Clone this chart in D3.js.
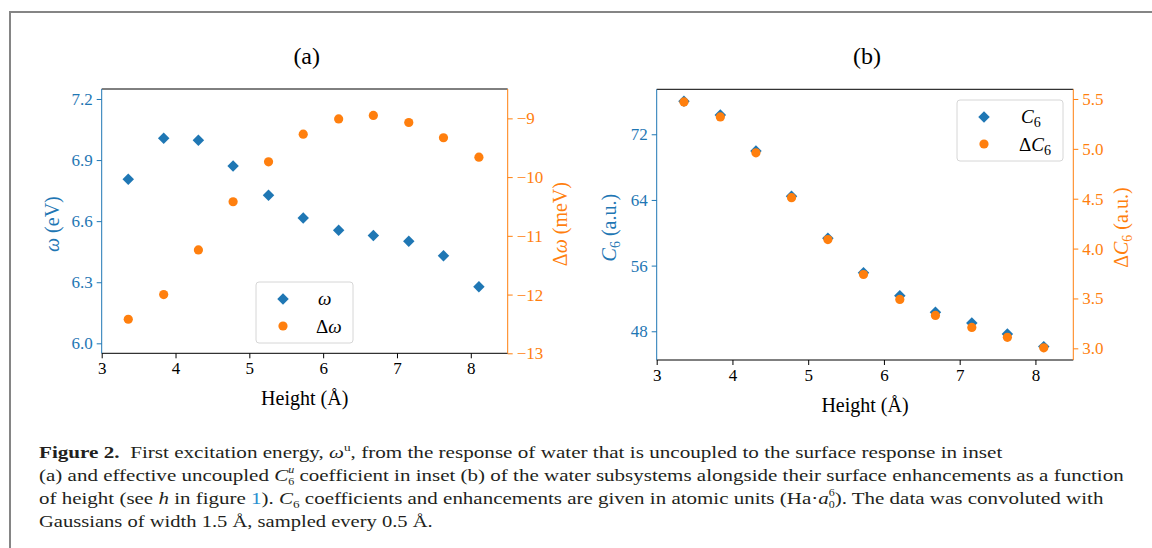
<!DOCTYPE html>
<meta charset="utf-8">
<script src="https://d3js.org/d3.v7.min.js"></script>
<style>
  body { margin: 0; background: #fff; }
</style>
<div id="fig"></div>
<script>

// heights of the water subsystems (Å)
var heights = [3.36, 3.84, 4.31, 4.78, 5.26, 5.73, 6.21, 6.68, 7.16, 7.63, 8.11];

// inset (a)
var omega  = [6.806, 7.007, 6.997, 6.871, 6.727, 6.616, 6.555, 6.529, 6.501, 6.430, 6.278];
var dOmega = [-12.42, -12.00, -11.24, -10.42, -9.74, -9.27, -9.01, -8.95, -9.07, -9.33, -9.66];

// inset (b)
var c6  = [76.02, 74.35, 69.97, 64.45, 59.33, 55.14, 52.34, 50.32, 49.02, 47.68, 46.13];
var dC6 = [5.47, 5.32, 4.96, 4.51, 4.09, 3.74, 3.49, 3.33, 3.21, 3.11, 3.005];

// tick labels
var xTicks      = [3, 4, 5, 6, 7, 8];
var omegaTicks  = [6.0, 6.3, 6.6, 6.9, 7.2];
var dOmegaTicks = [-13, -12, -11, -10, -9];
var c6Ticks     = [48, 56, 64, 72];
var dC6Ticks    = [3.0, 3.5, 4.0, 4.5, 5.0, 5.5];

var blue = "#1f77b4", orange = "#ff7f0e";
var serif = "'Liberation Serif', 'Times New Roman', serif";

var svg = d3.select("#fig").append("svg")
    .attr("width", 1152)
    .attr("height", 548)
    .style("font-family", serif);

// grey frame round the figure
svg.append("rect")
  .attr("x", 10).attr("y", 12)
  .attr("width", 1160).attr("height", 560)
  .attr("fill", "none")
  .attr("stroke", "#858585")
  .attr("stroke-width", 2);

var fmtMinus = function(d) { return d < 0 ? "\u2212" + Math.abs(d) : d; };

function diamond(sel, x, y, ys, col) {
  sel.append("g").selectAll("path")
    .data(heights)
    .join("path")
      .attr("d", d3.symbol(d3.symbolSquare, 66))
      .attr("transform", function(d, i) { return "translate(" + x(d) + "," + y(ys[i]) + ") rotate(45)"; })
      .attr("fill", col);
}
function dots(sel, x, y, ys, col) {
  sel.append("g").selectAll("circle")
    .data(heights)
    .join("circle")
      .attr("cx", function(d) { return x(d); })
      .attr("cy", function(d, i) { return y(ys[i]); })
      .attr("r", 4.6)
      .attr("fill", col);
}

function styleAxis(g, col) {
  g.attr("font-family", null).attr("font-size", null);
  g.select(".domain").remove();
  g.selectAll(".tick line").attr("stroke", col).attr("stroke-width", 1);
  g.selectAll(".tick text")
    .attr("fill", col)
    .style("font-family", serif)
    .style("font-size", "17px");
}

function drawPanel(o) {
  var g = svg.append("g");
  var x  = d3.scaleLinear().domain([3, 8.5]).range([o.left, o.right]);
  var yL = d3.scaleLinear().domain(o.lDom).range([o.bottom, o.top]);
  var yR = d3.scaleLinear().domain(o.rDom).range([o.bottom, o.top]);

  g.append("g")
    .attr("transform", "translate(0," + o.bottom + ")")
    .call(d3.axisBottom(x).tickValues(xTicks).tickSize(5).tickPadding(4).tickFormat(d3.format("d")))
    .call(styleAxis, "#000");

  g.append("g")
    .attr("transform", "translate(" + o.left + ",0)")
    .call(d3.axisLeft(yL).tickValues(o.lTicks).tickSize(5).tickPadding(4).tickFormat(o.lFmt))
    .call(styleAxis, blue);

  g.append("g")
    .attr("transform", "translate(" + o.right + ",0)")
    .call(d3.axisRight(yR).tickValues(o.rTicks).tickSize(5).tickPadding(4).tickFormat(o.rFmt))
    .call(styleAxis, orange);

  // spines
  g.append("line").attr("x1", o.left).attr("x2", o.right).attr("y1", o.top).attr("y2", o.top).attr("stroke", "#000");
  g.append("line").attr("x1", o.left).attr("x2", o.right).attr("y1", o.bottom).attr("y2", o.bottom).attr("stroke", "#000");
  g.append("line").attr("x1", o.left).attr("x2", o.left).attr("y1", o.top).attr("y2", o.bottom).attr("stroke", blue);
  g.append("line").attr("x1", o.right).attr("x2", o.right).attr("y1", o.top).attr("y2", o.bottom).attr("stroke", orange);

  diamond(g, x, yL, o.lData, blue);
  dots(g, x, yR, o.rData, orange);

  // panel title
  g.append("text")
    .attr("x", (o.left + o.right) / 2 + 2).attr("y", 64)
    .attr("text-anchor", "middle")
    .style("font-size", "24px")
    .text(o.title);

  // x label
  g.append("text")
    .attr("x", (o.left + o.right) / 2).attr("y", o.bottom + 52)
    .attr("text-anchor", "middle")
    .style("font-size", "20px")
    .text("Height (\u00c5)");

  // y labels
  var mid = (o.top + o.bottom) / 2 + 3;
  var tl = g.append("text")
    .attr("transform", "translate(" + o.lLabelX + "," + mid + ") rotate(-90)")
    .attr("text-anchor", "middle")
    .attr("fill", blue)
    .style("font-size", "20px");
  o.lLabel(tl);
  var tr = g.append("text")
    .attr("transform", "translate(" + o.rLabelX + "," + mid + ") rotate(-90)")
    .attr("text-anchor", "middle")
    .attr("fill", orange)
    .style("font-size", "20px");
  o.rLabel(tr);

  // legend
  var lg = g.append("g").attr("transform", "translate(" + o.legX + "," + o.legY + ")");
  lg.append("rect")
    .attr("width", o.legW).attr("height", 61)
    .attr("rx", 3)
    .attr("fill", "#fff").attr("fill-opacity", 0.8)
    .attr("stroke", "#d6d6d6");
  lg.append("path")
    .attr("d", d3.symbol(d3.symbolSquare, 66))
    .attr("transform", "translate(27,17) rotate(45)")
    .attr("fill", blue);
  lg.append("circle").attr("cx", 27).attr("cy", 44).attr("r", 4.6).attr("fill", orange);
  var t1 = lg.append("text").attr("x", o.legTx).attr("y", 23).style("font-size", "19px");
  o.leg1(t1);
  var t2 = lg.append("text").attr("x", o.legTx - 2).attr("y", 51).style("font-size", "19px");
  o.leg2(t2);
}

function c6Label(t, pre) {
  if (pre) t.append("tspan").text("\u0394");
  t.append("tspan").style("font-style", "italic").text("C");
  t.append("tspan").attr("dy", 4).style("font-size", "14px").text("6");
  t.append("tspan").attr("dy", -4).text(" (a.u.)");
}

drawPanel({
  title: "(a)",
  left: 101.7, right: 507.7, top: 89, bottom: 353.3,
  lDom: [5.951, 7.249], rDom: [-13, -8.5],
  lTicks: omegaTicks, rTicks: dOmegaTicks,
  lFmt: d3.format(".1f"), rFmt: fmtMinus,
  lData: omega, rData: dOmega,
  lLabelX: 59, rLabelX: 567,
  lLabel: function(t) {
    t.append("tspan").style("font-style", "italic").text("\u03c9");
    t.append("tspan").text(" (eV)");
  },
  rLabel: function(t) {
    t.append("tspan").text("\u0394");
    t.append("tspan").style("font-style", "italic").text("\u03c9");
    t.append("tspan").text(" (meV)");
  },
  legX: 256, legY: 282, legW: 97, legTx: 62,
  leg1: function(t) { t.style("font-style", "italic").text("\u03c9"); },
  leg2: function(t) {
    t.append("tspan").text("\u0394");
    t.append("tspan").style("font-style", "italic").text("\u03c9");
  }
});

drawPanel({
  title: "(b)",
  left: 656.7, right: 1073.3, top: 89.3, bottom: 360,
  lDom: [44.5, 77.48], rDom: [2.883, 5.597],
  lTicks: c6Ticks, rTicks: dC6Ticks,
  lFmt: d3.format("d"), rFmt: d3.format(".1f"),
  lData: c6, rData: dC6,
  lLabelX: 616, rLabelX: 1128,
  lLabel: function(t) { c6Label(t, false); },
  rLabel: function(t) { c6Label(t, true); },
  legX: 957, legY: 100, legW: 106, legTx: 64,
  leg1: function(t) {
    t.append("tspan").style("font-style", "italic").text("C");
    t.append("tspan").attr("dy", 4).style("font-size", "14px").text("6");
  },
  leg2: function(t) {
    t.append("tspan").text("\u0394");
    t.append("tspan").style("font-style", "italic").text("C");
    t.append("tspan").attr("dy", 4).style("font-size", "14px").text("6");
  }
});

// caption, one text per line, stretched to the line ends of the original
var cap = svg.append("g").style("font-size", "17.5px").attr("fill", "#231f20");
var capX = 39, capY = 457.5, capLead = 23.3;
var lineEnds = [1003, 1130, 1110, 433];

function line(i) {
  return cap.append("text").attr("x", 0).attr("y", 0)
    .attr("transform", "translate(" + capX + "," + (capY + i * capLead) + ")");
}
var l0 = line(0);
l0.append("tspan").style("font-weight", "bold").text("Figure 2.");
l0.append("tspan").text("\u2002First excitation energy, ");
l0.append("tspan").style("font-style", "italic").text("\u03c9");
l0.append("tspan").attr("dy", -7).style("font-size", "11px").text("u");
l0.append("tspan").attr("dy", 7).text(", from the response of water that is uncoupled to the surface response in inset");

var l1 = line(1);
l1.append("tspan").text("(a) and effective uncoupled ");
l1.append("tspan").style("font-style", "italic").text("C");
l1.append("tspan").attr("dy", -8).style("font-size", "10px").style("font-style", "italic").text("u");
l1.append("tspan").attr("dx", -5).attr("dy", 12).style("font-size", "10px").text("6");
l1.append("tspan").attr("dy", -4).text(" coefficient in inset (b) of the water subsystems alongside their surface enhancements as a function");

var l2 = line(2);
l2.append("tspan").text("of height (see ");
l2.append("tspan").style("font-style", "italic").text("h");
l2.append("tspan").text(" in figure ");
l2.append("tspan").attr("fill", "#2a8fd0").text("1");
l2.append("tspan").text("). ");
l2.append("tspan").style("font-style", "italic").text("C");
l2.append("tspan").attr("dy", 4).style("font-size", "11px").text("6");
l2.append("tspan").attr("dy", -4).text(" coefficients and enhancements are given in atomic units (Ha\u00b7");
l2.append("tspan").style("font-style", "italic").text("a");
l2.append("tspan").attr("dy", -8).style("font-size", "10px").text("6");
l2.append("tspan").attr("dx", -5).attr("dy", 12).style("font-size", "10px").text("0");
l2.append("tspan").attr("dy", -4).text("). The data was convoluted with");

var l3 = line(3);
l3.append("tspan").text("Gaussians of width 1.5 \u00c5, sampled every 0.5 \u00c5.");

// widen each line horizontally so that it ends where the original line ends
[l0, l1, l2, l3].forEach(function(t, i) {
  var len = t.node().getComputedTextLength();
  var s = (lineEnds[i] - capX) / len;
  t.attr("transform", "translate(" + capX + "," + (capY + i * capLead) + ") scale(" + s + ",1)");
});

</script>
